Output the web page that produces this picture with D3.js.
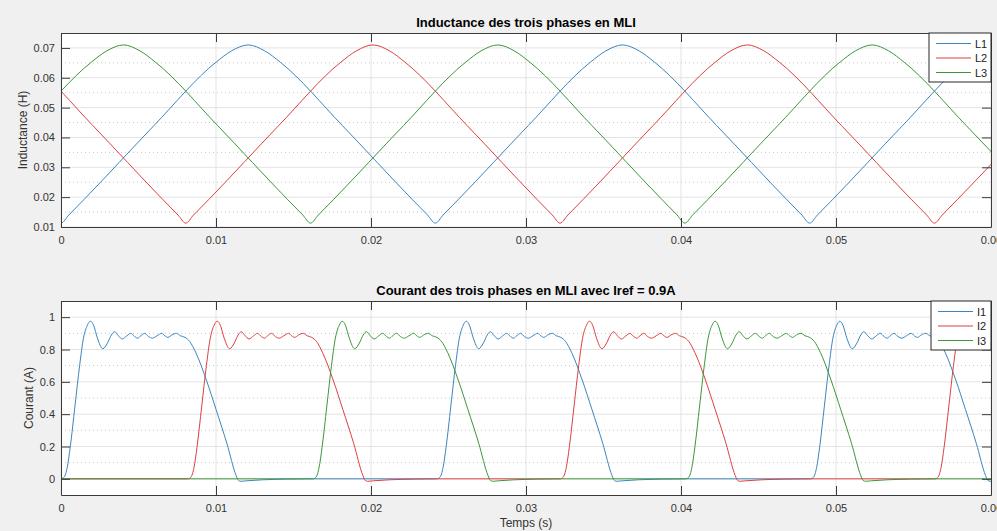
<!DOCTYPE html>
<html>
<head>
<meta charset="utf-8">
<script src="https://cdn.jsdelivr.net/npm/d3@7/dist/d3.min.js"></script>
<style>
  body { margin: 0; background: #f0f0f0; }
  svg { display: block; font-family: "Liberation Sans", Arial, sans-serif; }
</style>
</head>
<body>
<svg id="fig" width="997" height="531"></svg>
<script>
// ---- data ----
// inductances [t (s), L (H)]
const L1 = [[-0.0015,0.0193],[-0.0005,0.0140],[0,0.0113],[0.0005,0.0140],[0.0015,0.0193],[0.006,0.0440],[0.010,0.0652],[0.011,0.0690],[0.01208,0.0710],[0.01315,0.0690],[0.01415,0.0652],[0.01815,0.0440],[0.02265,0.0193],[0.02365,0.0140],[0.02415,0.0113],[0.02465,0.0140],[0.02565,0.0193],[0.03015,0.0440],[0.03415,0.0652],[0.03515,0.0690],[0.03623,0.0710],[0.0373,0.0690],[0.0383,0.0652],[0.0423,0.0440],[0.0468,0.0193],[0.0478,0.0140],[0.0483,0.0113],[0.0488,0.0140],[0.0498,0.0193],[0.0543,0.0440],[0.0583,0.0652],[0.0593,0.0690],[0.06038,0.0710]];
const L2 = [[-0.00403,0.0710],[-0.00295,0.0690],[-0.00195,0.0652],[0.00205,0.0440],[0.00655,0.0193],[0.00755,0.0140],[0.00805,0.0113],[0.00855,0.0140],[0.00955,0.0193],[0.01405,0.0440],[0.01805,0.0652],[0.01905,0.0690],[0.02013,0.0710],[0.0212,0.0690],[0.0222,0.0652],[0.0262,0.0440],[0.0307,0.0193],[0.0317,0.0140],[0.0322,0.0113],[0.0327,0.0140],[0.0337,0.0193],[0.0382,0.0440],[0.0422,0.0652],[0.0432,0.0690],[0.04428,0.0710],[0.04535,0.0690],[0.04635,0.0652],[0.05035,0.0440],[0.05485,0.0193],[0.05585,0.0140],[0.05635,0.0113],[0.05685,0.0140],[0.05785,0.0193],[0.06235,0.0440]];
const L3 = [[-0.00655,0.0193],[-0.00205,0.0440],[0.00195,0.0652],[0.00295,0.0690],[0.00403,0.0710],[0.0051,0.0690],[0.0061,0.0652],[0.0101,0.0440],[0.0146,0.0193],[0.0156,0.0140],[0.0161,0.0113],[0.0166,0.0140],[0.0176,0.0193],[0.0221,0.0440],[0.0261,0.0652],[0.0271,0.0690],[0.02818,0.0710],[0.02925,0.0690],[0.03025,0.0652],[0.03425,0.0440],[0.03875,0.0193],[0.03975,0.0140],[0.04025,0.0113],[0.04075,0.0140],[0.04175,0.0193],[0.04625,0.0440],[0.05025,0.0652],[0.05125,0.0690],[0.05233,0.0710],[0.0534,0.0690],[0.0544,0.0652],[0.0584,0.0440],[0.0629,0.0193]];

// one current pulse, time from switch-on (s) and current (A)
const pulseT = [0,0.0002,0.0004,0.0006,0.0009,0.0012,0.00145,0.0017,0.0019,0.0021,0.00235,0.0027,0.003,0.00325,0.00345,0.0037,0.00395,0.00425,0.0045,0.00475,0.00495,0.00515,0.0054,0.00565,0.0059,0.0062,0.0065,0.0067,0.0069,0.00715,0.00745,0.0077,0.008,0.0083,0.0087,0.0094,0.0100,0.0107,0.0113,0.01145,0.0116,0.0120,0.0130,0.0145,0.0160];
const pulseI = [0,0.01,0.07,0.2,0.45,0.7,0.87,0.95,0.975,0.95,0.87,0.805,0.84,0.89,0.91,0.885,0.865,0.885,0.90,0.88,0.87,0.885,0.90,0.88,0.87,0.885,0.90,0.885,0.875,0.89,0.90,0.885,0.875,0.85,0.78,0.605,0.43,0.22,0.02,-0.01,-0.015,-0.012,-0.006,-0.002,0];
// switch-on instants of each phase (s)
const startI1 = [0, 0.02425, 0.04835];
const startI2 = [0.00818, 0.0322, 0.05638];
const startI3 = [0.01625, 0.0403];

const xTicks = [0, 0.01, 0.02, 0.03, 0.04, 0.05, 0.06];
const yTicksL = [0.01, 0.02, 0.03, 0.04, 0.05, 0.06, 0.07];
const yMinorL = [0.015, 0.025, 0.035, 0.045, 0.055, 0.065];
const yTicksI = [0, 0.2, 0.4, 0.6, 0.8, 1];
const yMinorI = [0.1, 0.3, 0.5, 0.7, 0.9];

const colors = ["#3b86bd", "#dc4040", "#3c963c"];

function buildCurrent(starts) {
  const pts = [];
  if (starts[0] > 0) pts.push([0, 0]);
  for (const s of starts) {
    pulseT.forEach((t, i) => pts.push([s + t, pulseI[i]]));
  }
  if (pts[pts.length - 1][0] < 0.06) pts.push([0.061, 0]);
  return pts;
}
const I1 = buildCurrent(startI1);
const I2 = buildCurrent(startI2);
const I3 = buildCurrent(startI3);

const svg = d3.select("#fig");
const left = 61, right = 991;

function panel(opt) {
  const x = d3.scaleLinear().domain([0, 0.06]).range([left, right]);
  const y = d3.scaleLinear().domain(opt.ydom).range([opt.bottom, opt.top]);
  const g = svg.append("g");

  g.append("rect").attr("x", left).attr("y", opt.top)
    .attr("width", right - left).attr("height", opt.bottom - opt.top)
    .attr("fill", "#fff");

  // grid
  g.selectAll(".gx").data(xTicks).enter().append("line")
    .attr("x1", d => x(d)).attr("x2", d => x(d))
    .attr("y1", opt.top).attr("y2", opt.bottom)
    .attr("stroke", "#e3e3e3");
  g.selectAll(".gy").data(opt.yticks).enter().append("line")
    .attr("x1", left).attr("x2", right)
    .attr("y1", d => y(d)).attr("y2", d => y(d))
    .attr("stroke", "#e3e3e3");
  g.selectAll(".gm").data(opt.yminor).enter().append("line")
    .attr("x1", left).attr("x2", right)
    .attr("y1", d => y(d)).attr("y2", d => y(d))
    .attr("stroke", "#c8c8c8").attr("stroke-dasharray", "1,3");

  const clipId = "clip" + opt.id;
  svg.append("clipPath").attr("id", clipId).append("rect")
    .attr("x", left).attr("y", opt.top)
    .attr("width", right - left).attr("height", opt.bottom - opt.top);

  const line = d3.line().x(d => x(d[0])).y(d => y(d[1])).curve(d3.curveMonotoneX);
  g.append("g").attr("clip-path", `url(#${clipId})`)
    .selectAll("path").data(opt.series).enter().append("path")
    .attr("d", d => line(d))
    .attr("fill", "none")
    .attr("stroke", (d, i) => colors[i])
    .attr("stroke-width", 1);

  // axes, ticks inward on all four sides
  const axStyle = a => {
    a.select(".domain").attr("stroke", "#3a3a3a");
    a.selectAll(".tick line").attr("stroke", "#3a3a3a");
    a.selectAll("text").attr("fill", "#333").style("font-size", "11px")
      .style("font-family", '"Liberation Sans", Arial, sans-serif');
  };
  g.append("g").attr("transform", `translate(0,${opt.bottom})`)
    .call(d3.axisBottom(x).tickValues(xTicks).tickSize(-9).tickSizeOuter(0)
      .tickPadding(9).tickFormat(d => String(d)))
    .call(axStyle);
  g.append("g").attr("transform", `translate(0,${opt.top})`)
    .call(d3.axisTop(x).tickValues(xTicks).tickSize(-9).tickSizeOuter(0).tickFormat(""))
    .call(axStyle);
  g.append("g").attr("transform", `translate(${left},0)`)
    .call(d3.axisLeft(y).tickValues(opt.yticks).tickSize(-9).tickSizeOuter(0)
      .tickPadding(6).tickFormat(d => String(d)))
    .call(axStyle);
  g.append("g").attr("transform", `translate(${right},0)`)
    .call(d3.axisRight(y).tickValues(opt.yticks).tickSize(-9).tickSizeOuter(0).tickFormat(""))
    .call(axStyle);

  // title and y label
  g.append("text").attr("x", (left + right) / 2).attr("y", opt.top - 6)
    .attr("text-anchor", "middle").attr("font-weight", "bold")
    .attr("font-size", 13).attr("fill", "#000").text(opt.title);
  g.append("text")
    .attr("transform", `translate(${opt.ylabX},${(opt.top + opt.bottom) / 2}) rotate(-90)`)
    .attr("text-anchor", "middle").attr("font-size", 12).attr("fill", "#333")
    .text(opt.ylabel);

  // legend
  const lg = opt.legend;
  g.append("rect").attr("x", lg.x).attr("y", opt.top)
    .attr("width", right - lg.x).attr("height", lg.h)
    .attr("fill", "#fff").attr("stroke", "#262626");
  opt.names.forEach((n, i) => {
    const yy = opt.top + 10.5 + i * 14.5;
    g.append("line").attr("x1", lg.x + 7).attr("x2", lg.x + 42)
      .attr("y1", yy).attr("y2", yy).attr("stroke", colors[i]);
    g.append("text").attr("x", lg.x + 46).attr("y", yy + 4)
      .attr("font-size", 11).attr("fill", "#222").text(n);
  });
  return x;
}

panel({
  id: "L", top: 33, bottom: 227, ydom: [0.01, 0.075],
  yticks: yTicksL, yminor: yMinorL, series: [L1, L2, L3],
  title: "Inductance des trois phases en MLI", ylabel: "Inductance (H)", ylabX: 27,
  names: ["L1", "L2", "L3"], legend: { x: 929, h: 49 }
});
panel({
  id: "I", top: 301, bottom: 495, ydom: [-0.1, 1.1],
  yticks: yTicksI, yminor: yMinorI, series: [I1, I2, I3],
  title: "Courant des trois phases en MLI avec Iref = 0.9A", ylabel: "Courant (A)", ylabX: 33,
  names: ["I1", "I2", "I3"], legend: { x: 931, h: 49 }
});

svg.append("text").attr("x", (left + right) / 2).attr("y", 527)
  .attr("text-anchor", "middle").attr("font-size", 12).attr("fill", "#333")
  .text("Temps (s)");
</script>
</body>
</html>
